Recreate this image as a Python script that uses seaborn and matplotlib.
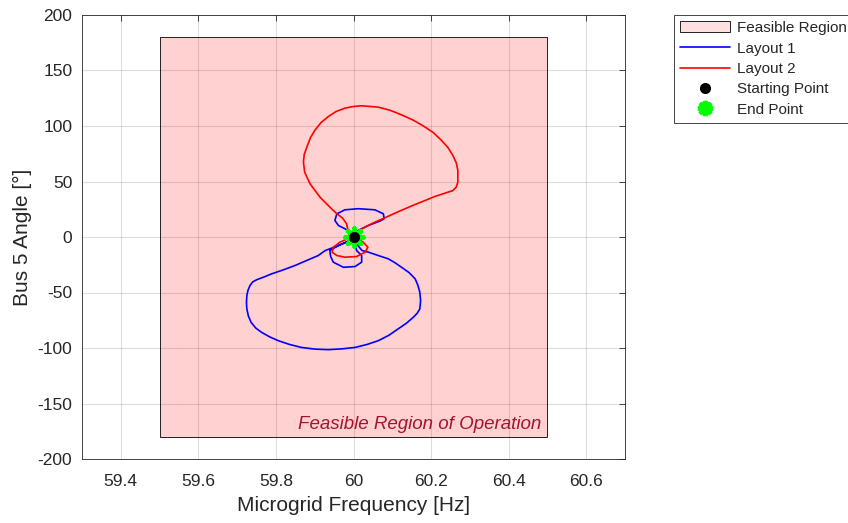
import numpy as np
import pandas as pd
import matplotlib
matplotlib.use("Agg")
import matplotlib.pyplot as plt
from matplotlib.patches import Rectangle, Patch
from matplotlib.lines import Line2D
import seaborn as sns

# Feasible operating window
feasible_freq = [59.5, 60.5]
feasible_angle = [-180, 180]

# Layout 1 trajectory (frequency in Hz, bus 5 angle in degrees)
layout1_freq = [
    60.000, 59.990, 59.978, 59.961, 59.952, 59.957, 59.978, 60.012, 60.055, 60.077,
    60.079, 60.068, 60.038, 60.012, 60.002, 59.991, 59.961, 59.927, 59.909, 59.879,
    59.849, 59.819, 59.789, 59.768, 59.751, 59.740, 59.733, 59.728, 59.725, 59.724,
    59.725, 59.729, 59.736, 59.748, 59.763, 59.784, 59.806, 59.835, 59.866, 59.900,
    59.935, 59.970, 60.004, 60.035, 60.064, 60.091, 60.115, 60.136, 60.154, 60.164,
    60.171, 60.173, 60.171, 60.166, 60.159, 60.143, 60.124, 60.107, 60.090, 60.064,
    60.037, 60.022, 60.012, 60.003, 59.991, 59.961, 59.939, 59.941, 59.948, 59.974,
    60.004, 60.021, 60.021, 60.008, 60.006, 60.001, 60.000,
]
layout1_angle = [
    0.0, 4.5, 7.4, 10.4, 14.9, 20.9, 24.5, 25.5, 24.5, 20.9,
    16.4, 14.3, 10.4, 5.9, 2.9, -3.2, -7.7, -12.2, -16.7, -21.2,
    -25.7, -29.6, -33.2, -36.2, -38.4, -40.5, -43.8, -48.0, -52.8, -58.8,
    -64.8, -71.2, -76.9, -82.0, -85.9, -90.0, -93.4, -96.8, -99.5, -101.0,
    -101.5, -100.8, -99.5, -96.8, -93.4, -88.6, -82.8, -77.8, -72.4, -68.8,
    -64.8, -57.3, -49.8, -43.5, -37.7, -32.0, -27.3, -23.2, -19.7, -16.7,
    -13.5, -12.2, -8.0, -2.0, -3.2, -7.7, -12.2, -17.5, -22.7, -27.3,
    -26.6, -22.7, -16.7, -12.2, -8.6, -3.2, 0.0,
]

# Layout 2 trajectory (frequency in Hz, bus 5 angle in degrees)
layout2_freq = [
    60.000, 59.995, 59.985, 59.982, 59.972, 59.957, 59.944, 59.914, 59.888, 59.874,
    59.871, 59.873, 59.880, 59.889, 59.901, 59.916, 59.935, 59.955, 59.978, 60.000,
    60.021, 60.064, 60.094, 60.124, 60.154, 60.183, 60.206, 60.226, 60.243, 60.256,
    60.265, 60.269, 60.269, 60.265, 60.256, 60.235, 60.209, 60.183, 60.150, 60.120,
    60.085, 60.050, 60.020, 60.003, 59.985, 59.965, 59.948, 59.945, 59.957, 59.978,
    60.008, 60.030, 60.037, 60.025, 60.012, 60.000,
]
layout2_angle = [
    0.0, 3.0, 7.4, 12.0, 17.0, 21.0, 25.2, 35.7, 47.9, 58.5,
    67.5, 74.5, 81.2, 89.5, 96.4, 103.0, 108.5, 113.0, 116.1, 117.6,
    118.2, 117.0, 114.2, 110.0, 105.3, 99.4, 94.0, 87.3, 80.8, 73.6,
    66.8, 60.0, 49.4, 45.0, 41.8, 39.4, 36.4, 32.7, 28.0, 23.5,
    18.0, 12.5, 7.0, 2.5, -1.5, -4.7, -9.2, -13.7, -16.7, -18.2,
    -17.6, -13.7, -9.2, -4.7, -1.6, 0.0,
]

# Common start and end of both trajectories
start_point = (60.0, 0.0)
end_point = (60.0, 0.0)

x_ticks = [59.4, 59.6, 59.8, 60.0, 60.2, 60.4, 60.6]
x_tick_labels = ["59.4", "59.6", "59.8", "60", "60.2", "60.4", "60.6"]
y_ticks = [-200, -150, -100, -50, 0, 50, 100, 150, 200]

sns.set_style("white")
plt.rcParams["font.family"] = ["Liberation Sans", "DejaVu Sans"]
plt.rcParams["axes.unicode_minus"] = False

ink = (0.15, 0.15, 0.15)

traj = pd.concat([
    pd.DataFrame({"freq": layout1_freq, "angle": layout1_angle, "layout": "Layout 1"}),
    pd.DataFrame({"freq": layout2_freq, "angle": layout2_angle, "layout": "Layout 2"}),
], ignore_index=True)

fig = plt.figure(figsize=(8.48, 5.23), dpi=100)
ax = fig.add_axes([82 / 848, 1 - 459 / 523, (625 - 82) / 848, (459 - 15) / 523])

ax.set_axisbelow(True)
ax.grid(True, color=ink, alpha=0.15, linewidth=0.8)

region_color = (1.0, 0.0, 0.0, 0.18)
ax.add_patch(Rectangle((feasible_freq[0], feasible_angle[0]),
                       feasible_freq[1] - feasible_freq[0],
                       feasible_angle[1] - feasible_angle[0],
                       facecolor=region_color, edgecolor="black", linewidth=0.6, zorder=1))

sns.lineplot(data=traj, x="freq", y="angle", hue="layout",
             palette={"Layout 1": "#0000FF", "Layout 2": "#FF0000"},
             sort=False, estimator=None, legend=False, linewidth=1.2, ax=ax, zorder=3)

sns.scatterplot(x=[end_point[0]], y=[end_point[1]], marker=(8, 2, 0), s=170,
                color="#00FF00", edgecolor="#00FF00", linewidth=3.2, ax=ax, zorder=4)
sns.scatterplot(x=[start_point[0]], y=[start_point[1]], marker="o", s=55,
                color="black", edgecolor="black", ax=ax, zorder=5)

ax.text(60.485, -169, "Feasible Region of Operation", ha="right", va="center",
        fontsize=13.5, style="italic", color="#A2142F")

ax.set_xlim(59.3, 60.7)
ax.set_ylim(-200, 200)
ax.set_xticks(x_ticks)
ax.set_xticklabels(x_tick_labels)
ax.set_yticks(y_ticks)
ax.tick_params(axis="both", direction="in", length=4, width=0.6, labelsize=12.5,
               colors=ink, top=True, right=True)
ax.tick_params(axis="x", pad=11)
ax.tick_params(axis="y", pad=7)
for t in ax.get_xticklabels() + ax.get_yticklabels():
    t.set_color(ink)
for s in ax.spines.values():
    s.set_color(ink)
    s.set_linewidth(0.6)

ax.set_xlabel("Microgrid Frequency [Hz]", fontsize=15, color=ink, labelpad=5)
ax.set_ylabel("Bus 5 Angle [°]", fontsize=15, color=ink, labelpad=4)

handles = [
    Patch(facecolor=(1.0, 0.0, 0.0, 0.12), edgecolor="black", linewidth=0.6, label="Feasible Region"),
    Line2D([], [], color="#0000FF", linewidth=1.2, label="Layout 1"),
    Line2D([], [], color="#FF0000", linewidth=1.2, label="Layout 2"),
    Line2D([], [], color="black", marker="o", linestyle="none", markersize=7, label="Starting Point"),
    Line2D([], [], color="#00FF00", marker=(8, 2, 0), markeredgewidth=3, linestyle="none",
           markersize=11, label="End Point"),
]
leg = ax.legend(handles=handles, loc="upper left", bbox_to_anchor=(1.09, 1.0),
                fontsize=11, frameon=True, fancybox=False, framealpha=1,
                edgecolor=ink, borderpad=0.4, labelspacing=0.42,
                handlelength=3.3, handletextpad=0.4, borderaxespad=0)
leg.get_frame().set_linewidth(0.6)

fig.savefig("out.png", dpi=100)
